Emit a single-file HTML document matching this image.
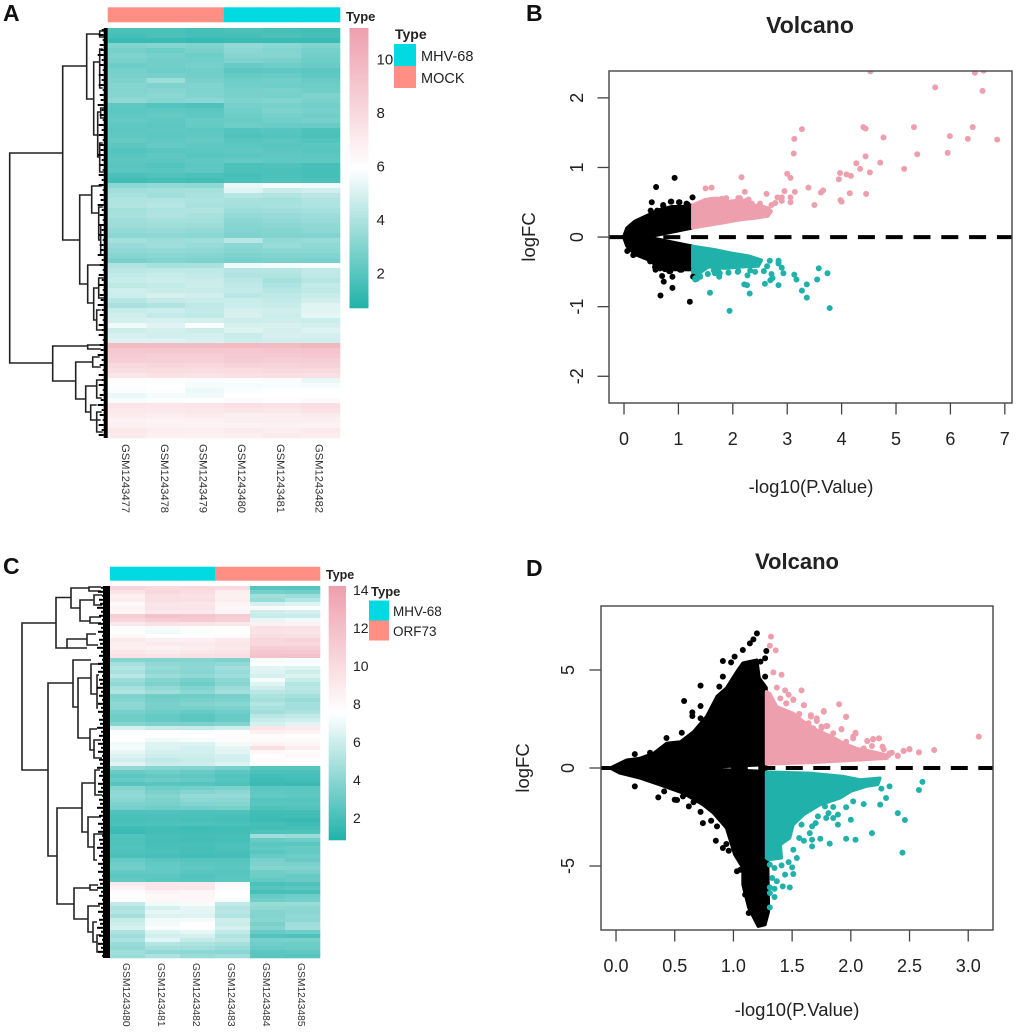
<!DOCTYPE html>
<html lang="en">
<head>
<meta charset="utf-8">
<title>Heatmaps and volcano plots</title>
<style>
html,body{margin:0;padding:0;background:#fff;width:1020px;height:1033px;overflow:hidden}
svg{display:block;font-family:"Liberation Sans",Arial,sans-serif}
</style>
</head>
<body>
<svg id="figure" xmlns="http://www.w3.org/2000/svg" width="1020" height="1033" viewBox="0 0 1020 1033">
<defs>
<clipPath id="clipB"><rect x="609" y="71" width="403" height="332"/></clipPath>
<clipPath id="clipD"><rect x="601" y="606" width="392" height="324"/></clipPath>
</defs>
<rect x="0" y="0" width="1020" height="1033" fill="#fff"/>

<g font-weight="700" font-size="23" fill="#111">
<text x="3" y="21">A</text>
<text x="526" y="21">B</text>
<text x="3" y="574">C</text>
<text x="526" y="576">D</text>
</g>

<g id="heatA"></g>
<g id="heatC"></g>

<g fill="#222">
<text x="346" y="21" font-size="13" font-weight="700">Type</text>
<text x="395" y="39" font-size="14" font-weight="700">Type</text>
<rect x="394" y="44" width="22" height="22" fill="#00DAE0"/>
<rect x="394" y="66" width="22" height="22" fill="#FF8F85"/>
<text x="421" y="61" font-size="14.5">MHV-68</text>
<text x="421" y="83" font-size="14.5">MOCK</text>
</g>

<g fill="#222">
<text x="326" y="579" font-size="12.5" font-weight="700">Type</text>
<text x="371" y="596" font-size="13" font-weight="700">Type</text>
<rect x="369" y="600.5" width="20" height="20" fill="#00DAE0"/>
<rect x="369" y="620.5" width="20" height="20" fill="#FF8F85"/>
<text x="393" y="616" font-size="13.5">MHV-68</text>
<text x="393" y="636" font-size="13.5">ORF73</text>
</g>

<g id="volB"></g>
<g id="volD"></g>

<g fill="#222">
<text x="810" y="33" font-size="23" font-weight="700" text-anchor="middle">Volcano</text>
<text x="811" y="493" font-size="18.5" text-anchor="middle">-log10(P.Value)</text>
<text transform="translate(535 237) rotate(-90)" font-size="18.5" text-anchor="middle">logFC</text>
</g>
<g fill="#222">
<text x="797" y="569" font-size="22" font-weight="700" text-anchor="middle">Volcano</text>
<text x="797" y="1016" font-size="18.5" text-anchor="middle">-log10(P.Value)</text>
<text transform="translate(529 768) rotate(-90)" font-size="18.5" text-anchor="middle">logFC</text>
</g>
</svg>

<script>
/* ---------- Panel A heatmap data ---------- */
const samplesA = ['GSM1243477','GSM1243478','GSM1243479','GSM1243480','GSM1243481','GSM1243482'];
const groupsA = ['MOCK','MOCK','MOCK','MHV-68','MHV-68','MHV-68'];
const colorbarTicksA = [10,8,6,4,2];
const matrixA = [
[1.5,1.5,1.4,1.5,1.4,1.3],[1.4,1.5,1.4,1.4,1.5,1.4],[1.1,1.1,1.0,1.1,1.1,1.1],[2.8,2.9,2.7,3.2,3.0,2.8],
[2.5,2.3,2.6,3.0,2.8,2.5],[2.7,2.5,2.3,2.9,2.9,2.4],[2.6,2.4,2.4,2.7,2.6,2.3],[2.3,2.4,2.5,2.2,2.3,2.2],
[2.5,2.3,2.4,1.9,2.0,1.9],[2.6,2.5,2.4,2.1,2.2,2.0],[2.7,3.4,2.6,2.3,2.4,2.2],[2.9,2.7,2.8,2.4,2.3,2.3],
[2.8,2.9,2.7,2.5,2.6,2.4],[2.9,3.0,2.8,2.6,2.5,2.7],[3.1,2.9,3.0,2.7,2.8,2.6],[2.0,1.7,1.6,2.5,2.6,2.4],
[1.9,2.0,1.9,2.4,2.7,2.5],[2.0,2.1,2.0,2.3,2.5,2.4],[2.1,2.0,2.2,2.2,2.4,2.5],[2.0,1.9,2.1,2.3,2.2,2.2],
[1.9,2.0,1.9,1.7,1.8,1.6],[2.0,1.9,2.0,1.6,1.7,1.5],[2.1,2.0,2.1,1.8,1.9,1.7],[1.9,2.1,2.0,1.9,1.8,1.9],
[1.7,1.8,1.9,2.0,1.9,1.8],[1.8,2.0,1.8,1.9,2.0,1.9],[1.9,1.9,2.0,2.1,2.0,2.0],[1.8,1.7,1.9,1.5,1.6,1.4],
[1.9,1.8,2.0,1.5,1.5,1.4],[1.5,1.6,1.5,1.4,1.5,1.4],[1.3,1.4,1.3,1.5,1.6,1.5],[3.0,3.2,3.1,5.2,5.5,5.4],
[3.5,3.6,3.6,5.0,4.4,4.6],[3.7,3.5,3.7,4.0,3.9,4.1],[3.8,3.9,3.8,3.7,3.6,3.9],[3.9,4.0,3.7,3.6,3.7,3.8],
[3.6,3.8,3.9,3.4,3.5,3.6],[3.7,3.9,3.7,3.2,3.3,3.4],[3.5,3.6,3.6,3.0,3.2,3.3],[3.4,3.5,3.4,2.9,3.0,3.1],
[3.2,3.3,3.2,2.8,2.9,3.0],[3.0,3.1,3.0,2.7,2.8,2.8],[3.6,3.4,3.5,4.1,3.2,3.3],[3.3,3.5,3.3,3.0,3.3,3.1],
[3.1,3.2,3.1,2.9,3.0,3.0],[2.9,3.0,2.9,2.7,2.8,2.8],[2.6,2.8,2.7,2.5,2.6,2.5],[3.9,3.6,3.7,5.4,5.5,5.6],
[4.1,4.2,4.2,4.0,4.0,4.3],[4.3,4.4,4.3,3.9,3.9,4.2],[4.4,4.5,4.4,4.1,3.6,4.0],[4.2,4.3,4.5,4.2,3.8,4.3],
[4.6,4.4,4.4,4.3,4.0,4.2],[4.5,4.8,4.6,4.1,4.2,4.4],[4.0,4.3,4.4,4.4,4.3,4.6],[3.7,3.9,4.2,4.5,4.4,5.0],
[4.4,4.5,4.3,4.7,4.6,5.0],[4.6,4.3,4.2,4.8,4.5,5.1],[4.7,4.8,4.7,4.5,4.6,4.5],[5.4,5.0,5.6,4.8,4.8,4.7],
[4.5,4.7,4.5,4.9,4.7,4.9],[4.8,4.6,4.7,4.4,4.8,4.7],[4.9,4.9,4.8,4.5,4.6,4.6],[9.6,9.5,9.5,9.7,9.6,9.8],
[8.9,8.9,9.0,9.0,9.1,9.2],[8.7,8.6,8.6,8.8,8.8,8.9],[8.6,8.5,8.5,8.7,8.6,8.6],[8.0,8.2,8.1,8.3,8.3,8.4],
[7.8,7.9,7.8,7.9,8.0,8.0],[7.3,7.5,7.4,7.6,7.7,7.6],[6.0,5.9,5.6,5.7,5.6,5.2],[6.0,5.8,5.5,5.5,5.6,5.5],
[5.6,5.7,5.3,5.6,5.7,5.7],[5.2,5.5,5.4,5.8,5.8,5.8],[5.5,5.7,5.8,6.2,6.1,6.2],[7.4,7.3,7.4,7.6,7.5,7.7],
[7.2,7.1,7.3,7.4,7.3,7.5],[7.0,6.9,7.0,6.8,6.9,7.0],[6.7,6.6,6.7,6.9,6.8,6.8],[6.8,6.7,6.6,6.6,6.7,6.6],
[7.2,6.9,6.8,7.0,6.9,7.1],[7.0,6.8,6.7,6.8,7.0,6.9]
];
/* merge: [height, childOffset1, childHeight1, childOffset2, childHeight2] */
const mergesA = [
[98,125,45,335,55],[45,38,21,212,28],[21,6,8,71,14],[8,3,3,9,3],[14,34,8,107,10],[8,21,5,60,5],[10,84,7,129,8],[7,80,3,90,3],[8,115,5,144,4],
[28,167,16,256,20],[16,158,6,185,9],[9,179,5,212,7],[7,197,3,227,4],[20,237,7,275,14],[14,260,9,292,11],[9,250,4,270,4],[11,282,7,302,6],
[55,318,20,353,32],[20,317,7,321,7],[32,334,15,371,22],[15,329,8,339,7],[22,358,11,384,17],[11,352,6,370,6],[17,377,11,392,7],[11,384,6,404,5]
];

/* ---------- Panel C heatmap data ---------- */
const samplesC = ['GSM1243480','GSM1243481','GSM1243482','GSM1243483','GSM1243484','GSM1243485'];
const groupsC = ['MHV-68','MHV-68','MHV-68','ORF73','ORF73','ORF73'];
const colorbarTicksC = [14,12,10,8,6,4,2];
const matrixC = [
[10.5,10.2,10.2,10.0,2.2,2.2],[9.5,10.3,10.0,8.8,3.2,3.0],[8.6,9.7,9.5,8.5,4.5,4.3],[8.8,9.8,9.8,8.8,4.2,5.0],
[8.0,9.3,9.2,8.3,6.0,6.2],[8.4,9.5,9.4,8.1,8.0,7.8],[8.1,9.0,9.1,8.2,5.8,6.0],[11.0,11.8,11.5,11.0,5.6,5.6],
[10.4,11.0,11.2,10.8,6.6,6.8],[9.0,9.6,9.4,9.2,8.6,8.5],[7.2,7.0,7.2,7.5,9.6,9.5],[7.6,6.9,7.2,7.4,9.5,9.4],
[8.0,7.5,7.6,7.8,9.8,9.7],[9.0,8.6,8.6,9.0,10.4,10.6],[8.8,8.9,9.0,9.2,10.2,10.3],[8.7,8.5,8.8,9.1,11.0,10.9],
[9.2,8.9,9.2,9.5,11.5,11.4],[9.6,9.4,9.6,9.8,11.8,11.9],[3.6,3.5,3.6,3.4,7.0,7.1],[4.6,4.0,3.8,4.0,7.6,7.3],
[5.0,4.2,3.9,4.5,6.4,6.2],[4.7,3.9,3.7,4.2,6.3,5.8],[5.2,4.3,4.0,4.4,6.0,6.2],[4.3,3.6,3.2,3.9,7.0,5.6],
[3.9,3.4,2.9,3.7,6.3,5.0],[4.6,4.0,3.5,4.3,5.8,5.2],[4.9,4.4,3.9,4.6,5.2,5.0],[3.4,3.0,3.0,3.2,4.8,4.6],
[3.5,3.1,3.3,3.4,4.6,4.2],[3.9,3.3,3.5,3.7,5.0,4.6],[3.8,3.2,3.3,3.4,4.7,4.5],[3.2,2.9,2.7,3.0,4.5,4.8],
[2.9,2.6,2.3,2.7,5.2,5.4],[3.0,2.7,2.4,2.8,5.6,5.8],[3.6,3.4,3.4,3.5,6.0,6.4],[6.0,5.6,5.5,5.8,9.4,9.0],
[7.2,7.4,7.1,7.4,8.6,8.4],[7.6,7.3,7.4,7.8,7.8,7.6],[7.5,6.8,7.0,7.7,7.9,7.9],[6.8,6.3,6.2,6.9,8.4,8.2],
[7.0,6.2,6.0,6.5,9.8,8.8],[6.6,6.0,5.9,6.4,8.0,7.8],[6.2,5.8,5.8,6.0,7.6,8.1],[5.9,5.4,5.6,5.9,7.8,7.7],
[6.4,5.7,5.8,6.2,7.5,7.4],[4.0,3.7,3.6,3.2,2.2,2.2],[2.8,3.0,2.8,2.4,1.9,1.9],[2.4,2.6,2.5,2.1,1.6,1.7],
[2.7,2.9,2.7,2.2,1.5,1.6],[2.2,2.3,2.2,2.0,1.4,1.3],[3.6,3.0,3.1,3.4,2.4,2.4],[3.9,3.3,3.6,3.9,2.5,2.4],
[4.0,3.6,4.1,4.1,2.6,2.5],[3.7,3.4,3.8,3.8,2.2,2.2],[3.4,3.3,3.5,3.6,2.3,2.3],[3.2,3.0,3.1,3.3,2.0,2.1],
[2.0,2.1,2.0,2.0,1.6,1.6],[1.9,1.9,1.9,1.8,1.5,1.6],[1.8,1.9,1.8,1.7,1.4,1.3],[1.9,2.0,2.0,1.9,1.7,1.5],
[1.5,1.6,1.5,1.6,1.6,1.7],[1.4,1.6,1.6,1.6,2.0,2.0],[2.1,1.8,1.7,1.8,4.4,4.2],[2.0,1.7,1.6,1.7,2.8,2.9],
[2.0,1.8,1.8,1.9,2.4,2.4],[2.1,1.8,1.7,1.9,2.6,2.7],[2.0,1.9,1.7,1.8,2.3,2.6],[1.9,1.7,1.6,1.7,2.7,2.9],
[2.7,2.4,2.2,2.2,3.2,2.8],[2.9,2.6,2.4,2.3,3.4,3.3],[3.1,2.7,2.5,2.4,3.6,3.5],[2.6,2.6,2.3,2.2,3.0,3.2],
[2.4,2.4,2.1,2.3,2.9,2.7],[2.6,2.3,2.2,2.4,2.6,2.8],[9.0,9.2,9.2,8.0,1.9,2.0],[8.4,9.3,9.2,7.8,2.2,2.4],
[7.8,8.4,8.2,7.5,1.7,1.8],[7.2,8.0,8.2,7.4,2.7,2.9],[7.6,8.1,8.1,7.0,3.0,3.1],[5.4,6.8,7.0,5.4,4.2,4.2],
[4.8,6.0,6.5,5.0,4.0,3.9],[5.0,6.6,6.4,5.2,3.6,3.8],[4.6,6.2,6.3,4.9,3.5,4.0],[5.5,6.8,6.9,5.8,3.7,3.9],
[5.8,6.9,7.3,5.6,3.3,4.4],[6.0,7.1,7.4,6.0,3.6,4.5],[4.8,6.2,6.6,5.4,2.8,3.0],[4.4,5.9,6.0,4.9,2.1,2.0],
[4.8,6.4,5.5,5.2,3.2,3.3],[4.2,5.0,4.8,4.6,3.0,2.9],[4.0,4.6,4.5,4.2,2.8,2.9],[4.4,4.0,3.9,3.8,2.4,2.5],
[4.2,4.8,4.2,4.4,2.3,2.2]
];
const mergesC = [
[88,37,54,184,62],[54,11.5,39,62,43],[39,2,21,22,30],[21,1,9,5,9],[30,14,16,35,20],[16,9,8,19,8],[20,31,9,37,9],[43,53,23,62,23],[23,48,14,59,12],
[62,97,37,270,53],[37,74,19,121,32],[32,92,19,152,20],[19,78,9,108,13],[13,89,11,122,12],[20,143,13,164,16],[16,154,9,172,8],
[53,222,28,318,36],[28,197,15,246,22],[15,184,10,209,8],[22,231,9,261,16],[16,248,5,274,13],[36,302,20,333,22],[20,299,12,304,12],[22,320,10,346,17],[17,336,13,356,13],[13,349,9,366,7]
];
const leafTeeth = [2,5,1,4,3,6,2,4,1,5];

/* ---------- Panel B volcano data ---------- */
const bXTicks = [0,1,2,3,4,5,6,7];
const bYTicks = [-2,-1,0,1,2];
const bBlackRegionX = [-0.01,0.05,0.20,0.45,0.63,0.88,1.06,1.26,1.26,0.51,0.51,1.26,1.26,0.88,0.63,0.45,0.20,0.05];
const bBlackRegionY = [0,0.13,0.23,0.32,0.39,0.44,0.44,0.46,0.13,0.012,-0.012,-0.13,-0.47,-0.47,-0.43,-0.33,-0.25,-0.13];
const bPinkRegionX = [1.26,1.49,1.67,1.92,2.16,2.41,2.65,2.71,2.65,2.41,2.16,1.80,1.49,1.26];
const bPinkRegionY = [0.46,0.54,0.56,0.51,0.54,0.46,0.42,0.37,0.30,0.27,0.25,0.20,0.16,0.13];
const bTealRegionX = [1.26,1.67,1.98,2.29,2.53,2.47,2.16,1.86,1.55,1.31,1.26];
const bTealRegionY = [-0.13,-0.18,-0.23,-0.27,-0.33,-0.42,-0.43,-0.45,-0.43,-0.565,-0.52];
const bBlackX = [0.93,0.59,1.26,0.51,0.87,1.02,0.72,1.15,0.49,0.61,0.89,0.67,1.21,0.73,0.70,0.89,0.58,0.83,1.06,0.06,0.17,0.26,0.48,1.27,0.94,0.66,0.72,0.86,1.01,1.17,0.57,0.75,0.85,1.03,1.18];
const bBlackY = [0.85,0.72,0.57,0.50,0.51,0.50,0.45,0.48,0.38,0.38,-0.73,-0.84,-0.93,-0.64,-0.56,-0.57,-0.47,-0.49,-0.47,-0.20,-0.26,-0.23,-0.35,-0.57,-0.35,-0.45,0.46,0.51,0.50,0.47,-0.43,-0.46,-0.49,-0.47,-0.45];
const bPinkX = [4.53,6.45,6.61,5.72,6.59,3.27,3.13,3.12,4.40,4.44,4.77,5.33,5.99,6.41,6.32,6.86,5.39,5.95,4.44,4.27,4.71,4.34,5.15,4.52,3.00,3.06,2.16,3.97,4.09,4.17,3.95,3.39,3.66,3.62,3.14,2.95,4.15,4.45,2.62,2.22,1.61,1.50,3.98,4.00,3.50,3.06,3.06,2.90,2.90,2.82,2.78,2.71,1.88,1.72,2.10,2.29,2.50,1.46,1.58,1.80,1.98,2.13,2.25,2.35,2.56];
const bPinkY = [2.38,2.36,2.39,2.15,2.10,1.55,1.41,1.20,1.58,1.56,1.43,1.58,1.45,1.58,1.41,1.40,1.19,1.21,1.16,1.06,1.07,0.98,0.98,0.93,0.91,0.85,0.86,0.92,0.90,0.88,0.83,0.71,0.67,0.64,0.65,0.66,0.63,0.62,0.62,0.65,0.71,0.70,0.53,0.51,0.46,0.57,0.50,0.52,0.57,0.57,0.49,0.46,0.56,0.54,0.56,0.54,0.48,0.46,0.53,0.55,0.50,0.56,0.52,0.48,0.42];
const bTealX = [1.94,1.58,3.78,3.36,3.27,3.36,3.55,3.74,3.58,3.13,3.17,2.84,2.59,2.69,2.73,2.21,2.26,2.31,2.71,2.93,2.90,2.84,2.84,2.68,2.63,2.57,2.27,2.41,2.32,2.09,1.92,1.75,1.54,1.34,1.40,1.65,1.76,1.31,1.54,1.67,1.92,1.73,2.10,1.31,1.40];
const bTealY = [-1.06,-0.80,-1.02,-0.87,-0.77,-0.68,-0.61,-0.52,-0.45,-0.54,-0.61,-0.69,-0.67,-0.62,-0.59,-0.68,-0.69,-0.81,-0.53,-0.52,-0.44,-0.34,-0.38,-0.34,-0.42,-0.49,-0.55,-0.50,-0.48,-0.50,-0.51,-0.57,-0.53,-0.60,-0.57,-0.48,-0.52,-0.61,-0.53,-0.52,-0.51,-0.47,-0.49,-0.59,-0.565];

/* ---------- Panel D volcano data ---------- */
const dXTicks = [0,0.5,1,1.5,2,2.5,3];
const dXTickLabels = ['0.0','0.5','1.0','1.5','2.0','2.5','3.0'];
const dYTicks = [-5,0,5];
const dBlackRegionX = [-0.05,0.09,0.20,0.32,0.43,0.55,0.66,0.77,0.86,0.94,1.03,1.08,1.20,1.22,1.28,1.28,0.91,0.72,0.91,1.28,1.30,1.27,1.21,1.13,1.08,1.08,1.01,0.94,0.83,0.74,0.57,0.37,0.20,0.03];
const dBlackRegionY = [0,0.41,0.49,0.75,1.26,1.34,1.85,2.62,3.66,4.08,4.93,5.36,5.51,4.6,4.1,0.17,0.07,0,-0.08,-0.17,-7.31,-8.0,-8.08,-7.14,-5.95,-5.10,-4.42,-3.06,-2.30,-1.87,-1.28,-0.85,-0.51,-0.26];
const dPinkRegionX = [1.28,1.31,1.37,1.51,1.60,1.71,1.84,1.94,2.05,2.19,2.31,2.31,2.08,1.65,1.28];
const dPinkRegionY = [3.9,3.81,3.13,2.79,2.36,1.94,1.60,1.26,1.0,0.83,0.66,0.49,0.41,0.27,0.2];
const dTealRegionX = [1.28,1.65,1.94,2.08,2.25,2.23,2.13,2.0,1.91,1.74,1.60,1.51,1.48,1.40,1.41,1.30,1.28];
const dTealRegionY = [-0.2,-0.26,-0.43,-0.6,-0.51,-0.85,-0.94,-1.19,-1.53,-1.87,-2.38,-2.89,-3.57,-3.91,-4.59,-4.68,-4.6];
const dBlackX = [1.20,1.17,1.14,1.08,1.01,0.91,0.98,0.72,0.91,0.88,0.58,0.72,0.65,0.65,0.72,0.43,0.56,0.16,0.29,1.27,1.28,1.23,1.27,0.16,0.36,0.50,0.57,0.62,0.66,0.72,0.74,0.81,0.86,0.85,0.91,0.96,0.94,1.03,1.06,1.10,1.13,0.41,0.52];
const dBlackY = [6.87,6.56,6.36,6.02,5.68,5.46,5.39,4.20,4.66,4.15,3.42,3.16,2.84,2.65,2.53,1.53,1.80,0.71,0.78,5.6,5.97,5.43,4.66,-0.94,-1.50,-1.62,-1.45,-1.96,-1.75,-2.24,-2.81,-2.69,-2.98,-3.71,-4.08,-4.22,-3.88,-5.27,-5.19,-6.46,-7.4,-1.19,-1.63];
const dPinkX = [1.32,1.31,1.36,1.34,1.41,1.37,1.44,1.58,1.47,1.51,1.45,1.60,1.90,1.77,1.96,1.66,1.56,1.92,2.04,2.02,2.14,2.19,2.24,3.09,2.71,2.50,2.45,2.58,2.40,2.33,2.28,1.75,1.79,1.64,1.71,1.68,1.40,1.51,1.45,1.60,1.96,1.77,1.66,1.56,1.71,1.64,1.92,1.68,1.80,1.75,2.04,2.02,2.14,2.19,2.24,2.27,2.18,2.11,2.35,2.32,2.40,2.45,2.50,2.58,1.60,1.85,1.96];
const dPinkY = [6.70,6.24,6.00,4.88,4.76,4.10,3.96,3.96,3.74,3.47,3.30,3.20,3.25,2.87,2.60,2.62,2.74,1.97,1.75,1.51,1.38,1.46,1.51,1.60,0.92,0.95,0.87,0.80,0.63,0.75,0.95,2.11,2.14,2.28,2.40,2.02,3.55,3.50,3.30,3.21,2.62,2.91,2.70,2.76,2.53,2.28,1.99,2.02,2.14,2.02,1.80,1.60,1.38,1.48,1.51,1.09,1.12,1.0,0.78,0.66,0.61,0.88,0.97,0.80,2.28,1.77,1.34];
const dTealX = [1.31,1.35,1.41,1.47,1.50,1.44,1.51,1.33,1.37,1.42,1.48,1.31,1.35,1.31,1.35,1.31,1.54,1.51,1.67,1.60,1.74,1.82,1.96,2.04,2.18,2.44,2.46,2.40,2.25,2.11,2.02,1.96,2.00,1.89,1.89,1.85,1.81,1.79,1.67,1.70,1.58,1.51,1.65,1.67,1.56,2.61,2.58,2.33,2.30,2.26,1.78,1.85,1.72];
const dTealY = [-4.93,-5.10,-4.97,-4.80,-5.07,-5.44,-5.41,-5.61,-5.78,-6.04,-6.09,-6.09,-6.16,-6.38,-6.58,-7.11,-4.59,-4.17,-4.00,-3.71,-3.61,-3.86,-3.61,-3.66,-3.32,-4.32,-2.65,-2.30,-1.87,-1.84,-1.70,-2.00,-2.64,-2.89,-2.38,-2.55,-2.30,-2.55,-2.98,-2.81,-2.89,-2.64,-3.32,-3.66,-3.57,-0.71,-1.12,-0.94,-1.53,-1.05,-1.96,-1.99,-2.47];

/* ---------- Shared drawing helpers ---------- */
const NS = 'http://www.w3.org/2000/svg';
function make(tag, attrs, parent){
  const node = document.createElementNS(NS, tag);
  for (const k in attrs) node.setAttribute(k, attrs[k]);
  parent.appendChild(node);
  return node;
}
function linear(d0, d1, r0, r1){ return v => r0 + (v - d0) * (r1 - r0) / (d1 - d0); }
const LOW = [32,178,170], MID = [255,255,255], HIGH = [238,159,173];
const GROUP_COLORS = {'MOCK':'#FF8F85','ORF73':'#FF8F85','MHV-68':'#00DAE0'};
function colorScale(lo, hi){
  const m = (lo + hi) / 2;
  return v => {
    const t = v < m ? Math.max(0, (v - lo) / (m - lo)) : Math.min(1, (v - m) / (hi - m));
    const a = v < m ? LOW : MID, b = v < m ? MID : HIGH;
    return 'rgb(' + a.map((c, i) => Math.round(c + (b[i] - c) * t)).join(',') + ')';
  };
}

function drawHeatmap(parent, matrix, samples, groups, merges, cbTicks, L){
  const color = colorScale(L.vMin, L.vMax);
  const mid = (L.vMin + L.vMax) / 2;
  const colW = (L.x1 - L.x0) / samples.length;
  const rowH = (L.y1 - L.y0) / matrix.length;

  groups.forEach((g, c) => {
    const bar = make('rect', {x: L.x0 + c * colW, y: L.barY, width: colW + 0.3, height: L.barH, fill: GROUP_COLORS[g]}, parent);
    
    
  });

  matrix.forEach((row, r) => row.forEach((v, c) => {
    const shown = v < mid ? Math.min(mid, v + L.cellLift) : v;
    const cell = make('rect', {x: L.x0 + c * colW, y: L.y0 + r * rowH, width: colW + 0.3, height: rowH + 0.3, fill: color(shown)}, parent);
    
    
  }));

  samples.forEach((s, c) => {
    const bx = L.x0 + (c + 0.5) * colW + L.labelDx;
    const label = make('text', {x: bx, y: L.labelY, 'font-size': L.labelSize, fill: '#333', transform: 'rotate(90 ' + bx + ' ' + L.labelY + ')'}, parent);
    label.textContent = s;
    
    
  });

  /* dendrogram */
  const hx = h => L.x0 - h;
  const oy = o => L.y0 + o;
  const dend = make('g', {fill: 'none', stroke: '#222', 'stroke-width': 1.6}, parent);
  
  
  merges.forEach(m => {
    const d = 'M' + hx(m[2]) + ' ' + oy(m[1]) + 'H' + hx(m[0]) + 'V' + oy(m[3]) + 'H' + hx(m[4]);
    const branch = make('path', {d: d}, dend);
    
    
  });
  const strip = make('rect', {x: L.x0 - L.stripW, y: L.y0, width: L.stripW, height: L.y1 - L.y0, fill: '#000'}, parent);
  
  
  matrix.forEach((row, r) => {
    const tooth = make('rect', {x: L.x0 - L.stripW - leafTeeth[r % leafTeeth.length], y: L.y0 + r * rowH + rowH * 0.2, width: leafTeeth[r % leafTeeth.length], height: 2, fill: '#000'}, parent);
    
    
  });

  /* colorbar */
  const n = 120;
  const cbY = linear(L.vMin, L.vMax, L.cbY1, L.cbY0);
  for (let i = 0; i < n; i++){
    const v0 = L.vMin + (L.vMax - L.vMin) * i / n;
    const v1 = L.vMin + (L.vMax - L.vMin) * (i + 1) / n;
    const seg = make('rect', {x: L.cbX, y: cbY(v1), width: L.cbW, height: cbY(v0) - cbY(v1) + 0.3, fill: color((v0 + v1) / 2)}, parent);
    
    
  }
  cbTicks.forEach(t => {
    const tick = make('text', {x: L.cbLabelX, y: cbY(t) + L.cbLabelSize * 0.36, 'font-size': L.cbLabelSize, fill: '#222'}, parent);
    tick.textContent = t;
    
    
  });
}

function drawVolcano(parent, P){
  const sx = linear(P.xDom[0], P.xDom[1], P.box[0], P.box[2]);
  const sy = linear(P.yDom[0], P.yDom[1], P.box[3], P.box[1]);
  const body = make('g', {'clip-path': 'url(#' + P.clip + ')'}, parent);
  
  

  const regions = [
    [P.blackRegion, '#000'],
    [P.pinkRegion, '#EE9FAD'],
    [P.tealRegion, '#20B2AA']
  ];
  regions.forEach(r => {
    const pts = r[0][0].map((x, i) => sx(x) + ',' + sy(r[0][1][i])).join(' ');
    const poly = make('polygon', {points: pts, fill: r[1], stroke: r[1], 'stroke-width': 3, 'stroke-linejoin': 'round'}, body);
    
    
  });

  const series = [
    [P.black, '#000'],
    [P.pink, '#EE9FAD'],
    [P.teal, '#20B2AA']
  ];
  series.forEach(s => {
    s[0][0].forEach((x, i) => {
      const dot = make('circle', {cx: sx(x), cy: sy(s[0][1][i]), r: 3, fill: s[1]}, body);
      
      
    });
  });

  const zero = make('line', {x1: P.box[0], x2: P.box[2], y1: sy(0), y2: sy(0), stroke: '#000', 'stroke-width': 4, 'stroke-dasharray': '17 ' + P.dashGap, 'stroke-dashoffset': P.dashOffset}, body);
  
  

  const frame = make('rect', {x: P.box[0], y: P.box[1], width: P.box[2] - P.box[0], height: P.box[3] - P.box[1], fill: 'none', stroke: '#444', 'stroke-width': 1.4}, parent);
  
  

  P.xTicks.forEach((t, i) => {
    const mark = make('line', {x1: sx(t), x2: sx(t), y1: P.box[3], y2: P.box[3] + 11.5, stroke: '#444', 'stroke-width': 1.3}, parent);
    
    
    const label = make('text', {x: sx(t), y: P.box[3] + P.xLabelDy, 'text-anchor': 'middle', 'font-size': 18, fill: '#222'}, parent);
    label.textContent = P.xLabels ? P.xLabels[i] : t;
    
    
  });
  P.yTicks.forEach(t => {
    const mark = make('line', {x1: P.box[0] - 11.5, x2: P.box[0], y1: sy(t), y2: sy(t), stroke: '#444', 'stroke-width': 1.3}, parent);
    
    
    const label = make('text', {transform: 'translate(' + P.yLabelX + ' ' + sy(t) + ') rotate(-90)', 'text-anchor': 'middle', 'font-size': 18, fill: '#222'}, parent);
    label.textContent = t;
    
    
  });
}

/* ---------- Render ---------- */
drawHeatmap(document.getElementById('heatA'), matrixA, samplesA, groupsA, mergesA, colorbarTicksA, {
  x0: 107.7, x1: 340, y0: 28, y1: 438, barY: 7.3, barH: 15, labelY: 444, labelDx: -5, labelSize: 11.2, cellLift: 0.2,
  vMin: 0.69, vMax: 11.16, cbX: 349.5, cbW: 19, cbY0: 28, cbY1: 308, cbLabelX: 376.5, cbLabelSize: 15, stripW: 4
});
drawHeatmap(document.getElementById('heatC'), matrixC, samplesC, groupsC, mergesC, colorbarTicksC, {
  x0: 110, x1: 320, y0: 586, y1: 958, barY: 566.7, barH: 14, labelY: 963, labelDx: -4.5, labelSize: 10.3, cellLift: 0.25,
  vMin: 0.84, vMax: 14.21, cbX: 328.7, cbW: 17.3, cbY0: 586, cbY1: 840, cbLabelX: 353, cbLabelSize: 14, stripW: 7
});
drawVolcano(document.getElementById('volB'), {
  box: [609, 71, 1012, 403], xDom: [-0.276, 7.132], yDom: [-2.384, 2.386], clip: 'clipB',
  blackRegion: [bBlackRegionX, bBlackRegionY], pinkRegion: [bPinkRegionX, bPinkRegionY], tealRegion: [bTealRegionX, bTealRegionY],
  black: [bBlackX, bBlackY], pink: [bPinkX, bPinkY], teal: [bTealX, bTealY],
  xTicks: bXTicks, yTicks: bYTicks, xLabelDy: 42, yLabelX: 583, dashGap: 10.8, dashOffset: 1.3
});
drawVolcano(document.getElementById('volD'), {
  box: [601, 606, 993, 930], xDom: [-0.128, 3.211], yDom: [-8.265, 8.265], clip: 'clipD',
  blackRegion: [dBlackRegionX, dBlackRegionY], pinkRegion: [dPinkRegionX, dPinkRegionY], tealRegion: [dTealRegionX, dTealRegionY],
  black: [dBlackX, dBlackY], pink: [dPinkX, dPinkY], teal: [dTealX, dTealY],
  xTicks: dXTicks, xLabels: dXTickLabels, yTicks: dYTicks, xLabelDy: 42, yLabelX: 574, dashGap: 10.5, dashOffset: 7.7
});
</script>
</body>
</html>
